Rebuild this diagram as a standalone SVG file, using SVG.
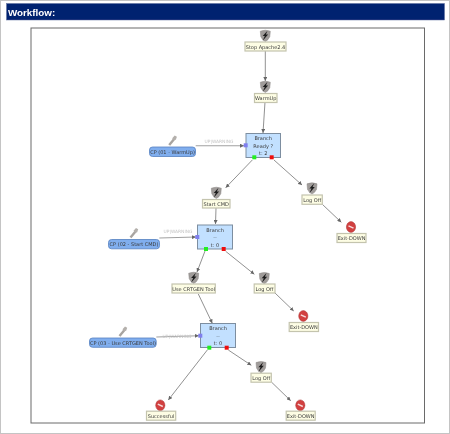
<svg xmlns="http://www.w3.org/2000/svg" width="450" height="434" viewBox="0 0 450 434">
<style>
text{font-family:"DejaVu Sans",Verdana,sans-serif;font-size:5px;fill:#3a3a3a;text-anchor:middle}
.head{font-family:"Liberation Sans",Arial,sans-serif;font-size:9.800px;font-weight:bold;fill:#fff;text-anchor:start}
.lbl{fill:#c4c4c4;font-size:4.400px}
.task{fill:#fdfde4;stroke:#c4c4ae;stroke-width:1.200}
.branch{fill:#c2e0ff;stroke:#7d8ea0;stroke-width:1}
.cp{fill:#80aeee;stroke:#5580c0;stroke-width:.8}
.edge{fill:none;stroke:#848484;stroke-width:.9;marker-end:url(#arr)}
.cpedge{fill:none;stroke:#a0a0a0;stroke-width:1.100;marker-end:url(#arr)}
</style>
<defs>
<marker id="arr" markerUnits="userSpaceOnUse" markerWidth="5" markerHeight="4" refX="4" refY="2" orient="auto"><path d="M0 0L4 2L0 4Z" fill="#666"/></marker>
<filter id="soft" x="-2%" y="-2%" width="104%" height="104%"><feGaussianBlur stdDeviation="0.4"/></filter>
<g id="shield"><path d="M-5-4.500Q0-6.500 5-4.500L4.500 1Q3 4.500 0 5.800Q-3 4.500-4.500 1Z" fill="#a09c9a" stroke="#8a8684" stroke-width=".5"/><path d="M2.200-5L-2.600 0.300L-0.500 0.300L-2.600 5L2.800-1.200L0.600-1.200Z" fill="#1c1c1c"/></g>
<g id="stop"><ellipse rx="4.600" ry="5.400" fill="#d24040" stroke="#a83030" stroke-width=".5"/><path d="M-2.500-1.200L2.500 1.200" stroke="#f6dada" stroke-width="1.400"/></g>
<g id="wrench"><path d="M-3.500 4.200L1.500-1.800" stroke="#a8a4a0" stroke-width="2.400"/><path d="M-.500-2.500L2-5.200L4.200-4L3.200-1L1-.5Z" fill="#b4b0ac"/></g>
</defs>
<rect width="450" height="434" fill="#fff"/>
<g filter="url(#soft)">
<rect x=".5" y=".5" width="449" height="433" fill="none" stroke="#c4c4c4"/>
<rect x="6.500" y="3.500" width="438" height="16.500" fill="#04206f" stroke="#5c6ea0" stroke-width=".5"/>
<text class="head" x="8" y="15.500">Workflow:</text>
<rect x="31" y="28" width="393.500" height="395" fill="#fff" stroke="#6a6a6a" stroke-width="1"/>
<g id="connectors">
<path class="edge" d="M265.300 51V81"/>
<path class="edge" d="M265 102L263 133"/>
<path class="edge" d="M252.300 160L225.700 187.700"/>
<path class="edge" d="M274 160L302 185"/>
<path class="edge" d="M322.300 204.300L341.300 222.300"/>
<path class="edge" d="M216 208L215.500 224"/>
<path class="edge" d="M205 251L197 272"/>
<path class="edge" d="M225.700 251.300L254.300 274.300"/>
<path class="edge" d="M275 293L293.700 311"/>
<path class="edge" d="M198.300 294L212.300 323.300"/>
<path class="edge" d="M207.300 350L168.300 400"/>
<path class="edge" d="M228.300 350L251.300 365.300"/>
<path class="edge" d="M271.700 382.300L290.700 400.700"/>
<path class="cpedge" d="M195.700 145.700H244"/>
<path class="cpedge" d="M159.300 238L196 237"/>
<path class="cpedge" d="M156.300 337L198.800 335.700"/>
</g>
<g id="n-stop"><use href="#shield" x="265.300" y="35.700"/><rect class="task" x="245" y="42" width="41" height="9"/><text x="265.500" y="48.500">Stop Apache2.4</text></g>
<g id="n-warmup"><use href="#shield" x="265.300" y="86.700"/><rect class="task" x="254.500" y="93.500" width="22.500" height="9"/><text x="265.700" y="100">WarmUp</text></g>
<g id="n-branch1"><rect class="branch" x="246" y="133.500" width="34.500" height="24"/><text x="263.200" y="140">Branch</text><text x="263.200" y="147.500">Ready ?</text><text x="263.200" y="155">t: 2</text><rect x="243.700" y="143.300" width="4" height="4" fill="#7f7fee"/><rect x="252.300" y="155.300" width="4" height="4" fill="#22ee22"/><rect x="269.700" y="155.300" width="4" height="4" fill="#ee1111"/></g>
<g id="n-cp1"><use href="#wrench" x="172.700" y="140.700"/><rect class="cp" x="149.500" y="147" width="46" height="9.500" rx="3"/><text x="172.500" y="153.500">CP (01 - WarmUp)</text><text class="lbl" x="219" y="143">UP|WARNING</text></g>
<g id="n-start"><use href="#shield" x="216.300" y="192.700"/><rect class="task" x="202.500" y="199.500" width="27.500" height="8.500"/><text x="216.200" y="205.700">Start CMD</text></g>
<g id="n-logoff1"><use href="#shield" x="312" y="188.300"/><rect class="task" x="302" y="195" width="20.300" height="9.300"/><text x="312.200" y="201.500">Log Off</text></g>
<g id="n-exit1"><use href="#stop" x="351" y="227"/><rect class="task" x="337" y="233.500" width="29" height="9"/><text x="351.500" y="240">Exit-DOWN</text></g>
<g id="n-branch2"><rect class="branch" x="197.500" y="225" width="35" height="24"/><text x="215" y="231.500">Branch</text><text x="215" y="239">--</text><text x="215" y="246.500">t: 0</text><rect x="195.300" y="235" width="4" height="4" fill="#7f7fee"/><rect x="204" y="247" width="4" height="4" fill="#22ee22"/><rect x="221.700" y="247" width="4" height="4" fill="#ee1111"/></g>
<g id="n-cp2"><use href="#wrench" x="134" y="233.300"/><rect class="cp" x="108.500" y="239.500" width="51" height="9.300" rx="3"/><text x="134" y="246">CP (02 - Start CMD)</text><text class="lbl" x="178" y="232.500">UP|WARNING</text></g>
<g id="n-use"><use href="#shield" x="193.700" y="277.700"/><rect class="task" x="172" y="284" width="43.300" height="9"/><text x="193.700" y="290.500">Use CRTGEN Tool</text></g>
<g id="n-logoff2"><use href="#shield" x="264.300" y="278"/><rect class="task" x="254.200" y="284" width="20.800" height="9"/><text x="264.500" y="290.500">Log Off</text></g>
<g id="n-exit2"><use href="#stop" x="303.300" y="316"/><rect class="task" x="289.200" y="322.500" width="29.300" height="9"/><text x="303.800" y="329">Exit-DOWN</text></g>
<g id="n-branch3"><rect class="branch" x="200.500" y="323.500" width="35" height="24"/><text x="218" y="330">Branch</text><text x="218" y="337.500">--</text><text x="218" y="345">t: 0</text><rect x="198.300" y="333.700" width="4" height="4" fill="#7f7fee"/><rect x="207.300" y="345.700" width="4" height="4" fill="#22ee22"/><rect x="224.700" y="345.700" width="4" height="4" fill="#ee1111"/></g>
<g id="n-cp3"><use href="#wrench" x="123" y="331.700"/><rect class="cp" x="89.500" y="338" width="66.700" height="9.300" rx="3"/><text x="123" y="344.500">CP (03 - Use CRTGEN Tool)</text><text class="lbl" x="177" y="337.500">UP|WARNING</text></g>
<g id="n-success"><use href="#stop" x="160.300" y="405.300"/><rect class="task" x="146.500" y="411.200" width="29.200" height="9"/><text x="161" y="417.700">Successful</text></g>
<g id="n-logoff3"><use href="#shield" x="261" y="367"/><rect class="task" x="251" y="373.200" width="20.300" height="9"/><text x="261.200" y="379.700">Log Off</text></g>
<g id="n-exit3"><use href="#stop" x="300.300" y="405.300"/><rect class="task" x="286.200" y="411.200" width="29" height="9"/><text x="300.700" y="417.700">Exit-DOWN</text></g>
</g>
</svg>
